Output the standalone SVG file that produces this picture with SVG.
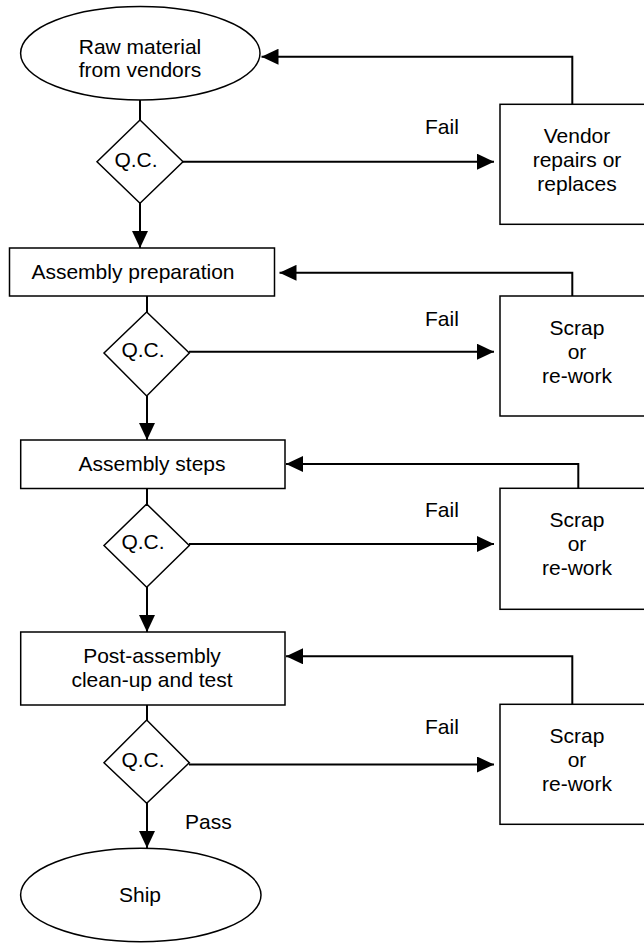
<svg xmlns="http://www.w3.org/2000/svg" width="644" height="943" viewBox="0 0 644 943">
  <defs>
    <marker id="arrow" markerUnits="userSpaceOnUse" markerWidth="17" markerHeight="16" refX="17" refY="8" orient="auto">
      <path d="M0,0 L17,8 L0,16 Z" fill="#000"/>
    </marker>
    <style>
      .shape { fill: #fff; stroke: #000; stroke-width: 1.5; }
      .conn { fill: none; stroke: #000; stroke-width: 2; }
      .arr { marker-end: url(#arrow); }
      text { font-family: "Liberation Sans", Arial, sans-serif; font-size: 21px; fill: #000; }
      .c { text-anchor: middle; }
    </style>
  </defs>
  <rect width="644" height="943" fill="#fff"/>

  <!-- connectors -->
  <g id="connectors">
    <!-- main flow, first stage -->
    <line class="conn" x1="140" y1="100" x2="140" y2="120"/>
    <line class="conn arr" x1="140" y1="203" x2="140" y2="248"/>
    <!-- main flow, later stages -->
    <line class="conn" x1="147" y1="296" x2="147" y2="312"/>
    <line class="conn arr" x1="147" y1="396" x2="147" y2="440"/>
    <line class="conn" x1="147" y1="489" x2="147" y2="504"/>
    <line class="conn arr" x1="147" y1="587" x2="147" y2="632"/>
    <line class="conn" x1="147" y1="705" x2="147" y2="720"/>
    <line class="conn arr" x1="147" y1="803" x2="147" y2="848"/>
    <!-- fail branches -->
    <line class="conn arr" x1="183" y1="161.7" x2="494" y2="161.7"/>
    <line class="conn arr" x1="189" y1="351.7" x2="494" y2="351.7"/>
    <line class="conn arr" x1="189" y1="544" x2="494" y2="544"/>
    <line class="conn arr" x1="189" y1="764.5" x2="494" y2="764.5"/>
    <!-- return paths -->
    <polyline class="conn arr" points="572.3,104.3 572.3,56.7 261.5,56.7"/>
    <polyline class="conn arr" points="572.3,296 572.3,272.8 279.5,272.8"/>
    <polyline class="conn arr" points="578.3,488.3 578.3,464 286,464"/>
    <polyline class="conn arr" points="572.3,704.3 572.3,656.3 286,656.3"/>
  </g>

  <!-- edge labels -->
  <g id="labels">
    <text x="425" y="134">Fail</text>
    <text x="425" y="325.7">Fail</text>
    <text x="425" y="517.3">Fail</text>
    <text x="425" y="733.5">Fail</text>
    <text x="185" y="829.3">Pass</text>
  </g>

  <g id="raw-material">
    <ellipse class="shape" cx="140.3" cy="53.3" rx="119.7" ry="46.7"/>
    <text class="c" x="140" y="54">Raw material</text>
    <text class="c" x="140" y="77">from vendors</text>
  </g>

  <g id="qc-1">
    <polygon class="shape" points="140,120 183,161.7 140,203.3 97,161.7"/>
    <text class="c" x="136" y="166.5">Q.C.</text>
  </g>

  <g id="vendor-repairs">
    <rect class="shape" x="500" y="104.3" width="170" height="120"/>
    <text class="c" x="577" y="142.7">Vendor</text>
    <text class="c" x="577" y="166.7">repairs or</text>
    <text class="c" x="577" y="190.7">replaces</text>
  </g>

  <g id="assembly-preparation">
    <rect class="shape" x="9.5" y="248" width="265" height="48"/>
    <text class="c" x="133" y="279.3">Assembly preparation</text>
  </g>

  <g id="qc-2">
    <polygon class="shape" points="146.7,312 189.3,353 146.7,396 104,353"/>
    <text class="c" x="143" y="357.3">Q.C.</text>
  </g>

  <g id="scrap-1">
    <rect class="shape" x="500" y="296" width="170" height="120"/>
    <text class="c" x="577" y="335">Scrap</text>
    <text class="c" x="577" y="359">or</text>
    <text class="c" x="577" y="383.3">re-work</text>
  </g>

  <g id="assembly-steps">
    <rect class="shape" x="20.7" y="440" width="264.3" height="48.5"/>
    <text class="c" x="152" y="470.7">Assembly steps</text>
  </g>

  <g id="qc-3">
    <polygon class="shape" points="146.7,504 189.3,545.5 146.7,587.3 104,545.5"/>
    <text class="c" x="143" y="549.3">Q.C.</text>
  </g>

  <g id="scrap-2">
    <rect class="shape" x="500" y="488.3" width="170" height="121"/>
    <text class="c" x="577" y="527.3">Scrap</text>
    <text class="c" x="577" y="551.3">or</text>
    <text class="c" x="577" y="575.3">re-work</text>
  </g>

  <g id="post-assembly">
    <rect class="shape" x="20.7" y="632" width="264.3" height="73"/>
    <text class="c" x="152" y="663.3">Post-assembly</text>
    <text class="c" x="152" y="686.7">clean-up and test</text>
  </g>

  <g id="qc-4">
    <polygon class="shape" points="146.7,720 189.3,762.7 146.7,803.3 104,762.7"/>
    <text class="c" x="143" y="766.5">Q.C.</text>
  </g>

  <g id="scrap-3">
    <rect class="shape" x="500" y="704.3" width="170" height="120"/>
    <text class="c" x="577" y="742.7">Scrap</text>
    <text class="c" x="577" y="766.7">or</text>
    <text class="c" x="577" y="791">re-work</text>
  </g>

  <g id="ship">
    <ellipse class="shape" cx="140.8" cy="895" rx="120.2" ry="46.7"/>
    <text class="c" x="140" y="901.7">Ship</text>
  </g>
</svg>
